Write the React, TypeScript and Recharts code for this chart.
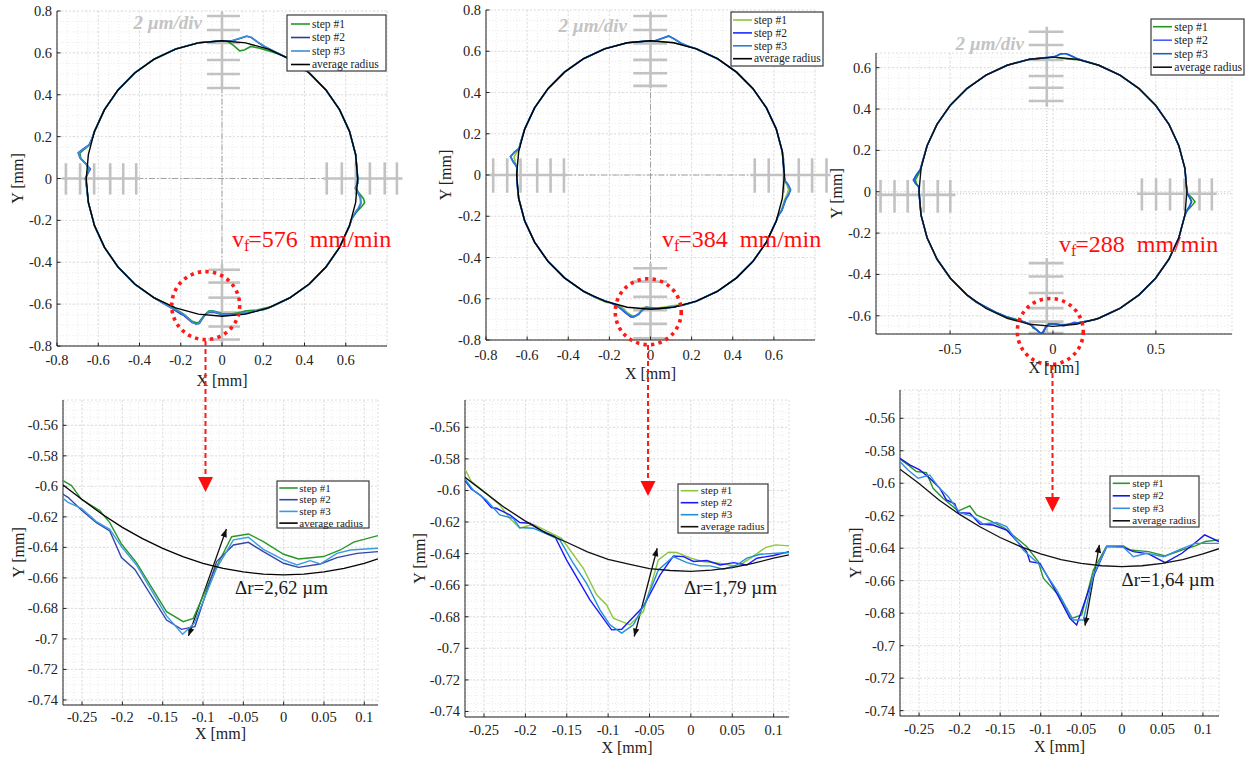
import React from 'react';
import { ScatterChart, Scatter, XAxis, YAxis, CartesianGrid, ReferenceLine, ReferenceDot } from 'recharts';

type Pt = [number, number];

const SERIF = "'Liberation Serif', 'Times New Roman', 'DejaVu Serif', serif";
const AXIS_COLOR = '#222222';

// ---------------- top plots: radius deviations [angle deg, dev mm] ----------------
const BASE_ANGLES = [0, 10, 20, 30, 40, 50, 60, 70, 80, 90, 100, 110, 120, 130, 140, 150, 160, 170, 180, 190, 200, 210, 220, 230, 240, 250, 260, 270, 280, 290, 300, 310, 320, 330, 340, 350, 360];

const P1_AVG_RADIUS = 0.658;
const P1_S1_TOP: Pt[] = [[62, 0], [66, -0.005], [70, -0.008], [74, -0.01], [77.5, -0.012], [80, -0.035], [82, -0.042], [85, -0.02], [88, 0]];
const P1_S1_LEFT: Pt[] = [[163, 0], [166, 0.005], [168, 0.022], [170, 0.042], [172, 0.033], [174, 0.005], [176, -0.012], [178, -0.004], [180, 0.003], [183, 0]];
const P1_S1_BOTTOM: Pt[] = [[240, 0], [247.5, 0], [252.5, 0.011], [254.3, 0.017], [258, 0.039], [259.8, 0.042], [260.7, 0.038], [262.4, 0.004], [264.2, -0.022], [266, -0.025], [270, -0.013], [274.4, -0.01], [277, -0.012], [280.5, -0.015], [285, -0.008], [292, 0]];
const P1_S1_RIGHT: Pt[] = [[343, 0], [346, 0.012], [348.5, 0.03], [350.5, 0.043], [352, 0.035], [354, 0.01], [356, -0.008], [358, 0]];
const P1_S2_TOP: Pt[] = [[68, 0], [72, 0.005], [75, 0.015], [78, 0.03], [80, 0.032], [83, 0.015], [86, 0]];
const P1_S2_LEFT: Pt[] = [[163, 0], [166, 0.006], [168, 0.028], [170, 0.05], [172, 0.036], [174, 0.004], [176, -0.018], [178, -0.006], [180, 0.004], [183, 0]];
const P1_S2_BOTTOM: Pt[] = [[240, 0], [247.8, 0.007], [252.7, 0.019], [254.3, 0.022], [258.1, 0.045], [259.7, 0.047], [261, 0.043], [262.7, -0.003], [264.4, -0.017], [266.1, -0.02], [270, -0.008], [274, -0.005], [280.3, -0.005], [288, 0]];
const P1_S2_RIGHT: Pt[] = [[343, 0], [346, 0.01], [348, 0.02], [350, 0.026], [352, 0.02], [354, 0.005], [356, -0.01], [358, 0]];
const P1_S3_TOP: Pt[] = [[68, 0], [72, 0.006], [75, 0.016], [78, 0.03], [80, 0.033], [83, 0.016], [86, 0]];
const P1_S3_LEFT: Pt[] = [[163, 0], [166, 0.005], [168, 0.026], [170, 0.048], [172, 0.035], [174, 0.006], [176, -0.015], [178, -0.005], [180, 0.004], [183, 0]];
const P1_S3_BOTTOM: Pt[] = [[240, 0], [247.8, 0.006], [252.5, 0.012], [254.4, 0.019], [258, 0.042], [259.8, 0.05], [260.9, 0.041], [262.8, 0.001], [264.4, -0.02], [266, -0.023], [270, -0.01], [274, -0.005], [280.4, -0.007], [288, 0]];
const P1_S3_RIGHT: Pt[] = [[343, 0], [346, 0.008], [348, 0.018], [350, 0.024], [352, 0.02], [354, 0.006], [356, -0.008], [358, 0]];

const P2_AVG_RADIUS = 0.651;
const P2_S1_LEFT: Pt[] = [[166, 0], [169, 0.002], [171, 0.012], [172.5, 0.018], [174.5, 0.01], [177, 0]];
const P2_S1_BOTTOM: Pt[] = [[245, 0], [250.5, 0.004], [253, -0.001], [256.1, -0.002], [258.7, 0.011], [260.3, 0.025], [262.2, 0.036], [263.9, 0.038], [265.2, 0.028], [266.5, -0.006], [268.5, -0.011], [273, -0.004], [279.2, -0.008], [286, 0]];
const P2_S1_RIGHT: Pt[] = [[342, 0], [345, 0.008], [349.6, 0.012], [352, 0.02], [354, 0.024], [356, 0.014], [357.2, 0.004], [359, 0]];
const P2_S2_TOP: Pt[] = [[74, 0], [77, 0.005], [80, 0.018], [82.5, 0.029], [85, 0.015], [88, 0]];
const P2_S2_LEFT: Pt[] = [[166, 0], [168.6, 0.001], [170.5, 0.02], [172.5, 0.036], [174.5, 0.02], [176.5, 0], [179, -0.003], [182, 0]];
const P2_S2_BOTTOM: Pt[] = [[245, 0], [250, -0.002], [253, -0.002], [256.9, 0.01], [259.7, 0.029], [262.1, 0.044], [263.1, 0.042], [265.1, 0.025], [266.7, 0.004], [268.1, -0.009], [270.3, -0.006], [274.6, -0.003], [279, -0.002], [284, 0]];
const P2_S2_RIGHT: Pt[] = [[342, 0], [345.1, 0.011], [349.6, 0.017], [352, 0.028], [354, 0.034], [356, 0.02], [357.2, 0.007], [359, 0]];
const P2_S3_TOP: Pt[] = [[74, 0], [77, 0.006], [80, 0.019], [82.5, 0.028], [85, 0.014], [88, 0]];
const P2_S3_LEFT: Pt[] = [[166, 0], [168.6, 0], [170.5, 0.019], [172.5, 0.035], [174.5, 0.019], [176.5, 0.001], [179, -0.002], [182, 0]];
const P2_S3_BOTTOM: Pt[] = [[245, 0], [250, -0.001], [254, -0.002], [257.6, 0.011], [260.8, 0.033], [263.1, 0.044], [265.3, 0.023], [266.7, 0.003], [268.1, -0.009], [271, -0.004], [273.5, 0], [279, -0.002], [284, 0]];
const P2_S3_RIGHT: Pt[] = [[342, 0], [345.1, 0.01], [349.6, 0.016], [352, 0.027], [354, 0.033], [356, 0.02], [357.2, 0.006], [359, 0]];

const P3_AVG_RADIUS = 0.651;
const P3_S1_TOP: Pt[] = [[78, 0], [81, -0.004], [84, -0.005], [87, -0.002], [89, 0]];
const P3_S1_LEFT: Pt[] = [[168, 0], [171, 0.002], [173, 0.01], [175.2, 0.02], [176.5, 0.014], [178, 0.002], [180, 0]];
const P3_S1_BOTTOM: Pt[] = [[235, 0], [245, -0.005], [249.5, -0.006], [253, -0.009], [255.4, -0.007], [259.6, -0.001], [261, 0.005], [261.6, 0.015], [263.5, 0.023], [264.8, 0.035], [265.8, 0.032], [266.9, 0.003], [268.3, -0.012], [272.9, -0.008], [276.6, -0.006], [280.7, -0.005], [288, 0]];
const P3_S1_RIGHT: Pt[] = [[350, 0], [352, 0.008], [354, 0.025], [356, 0.041], [357.5, 0.025], [359, 0.005]];
const P3_S2_TOP: Pt[] = [[77, 0], [80, 0.005], [83, 0.015], [85, 0.021], [87, 0.015], [89, 0.003], [91, 0]];
const P3_S2_LEFT: Pt[] = [[168, 0], [170.5, 0.003], [173, 0.018], [175.2, 0.03], [176.5, 0.018], [177.8, 0.002], [180, 0]];
const P3_S2_BOTTOM: Pt[] = [[235, 0], [245, -0.005], [249.5, -0.006], [253.1, -0.005], [257.3, -0.006], [259.5, -0.003], [261.2, 0.006], [262.7, 0.018], [264.6, 0.035], [265.4, 0.039], [266.9, 0.007], [268.3, -0.012], [271, -0.012], [274.7, 0], [279.2, -0.011], [281, -0.005], [288, 0]];
const P3_S2_RIGHT: Pt[] = [[350, 0], [352, 0.006], [354, 0.018], [356, 0.025], [357.5, 0.015], [359, 0.003]];
const P3_S3_TOP: Pt[] = [[77, 0], [80, 0.004], [83, 0.014], [85, 0.02], [87, 0.016], [89, 0.004], [91, 0]];
const P3_S3_LEFT: Pt[] = [[168, 0], [170.5, 0.002], [173, 0.017], [175.2, 0.028], [176.5, 0.019], [177.8, 0.003], [180, 0]];
const P3_S3_BOTTOM: Pt[] = [[235, 0], [245, -0.005], [249.5, -0.005], [253, -0.006], [256.1, -0.008], [259.5, -0.002], [261.2, 0.007], [263.1, 0.02], [265, 0.036], [266, 0.035], [266.9, 0.006], [268.3, -0.012], [271, -0.011], [274.6, -0.004], [279, -0.006], [288, 0]];
const P3_S3_RIGHT: Pt[] = [[350, 0], [352, 0.005], [354, 0.016], [356, 0.023], [357.5, 0.014], [359, 0.003]];

// ---------------- bottom plots: [x mm, y mm] ----------------
const P4_STEP1: Pt[] = [[-0.2736, -0.5963], [-0.263, -0.5995], [-0.2508, -0.6085], [-0.228, -0.6159], [-0.2156, -0.6238], [-0.2011, -0.6378], [-0.1825, -0.65], [-0.1452, -0.6821], [-0.1245, -0.6887], [-0.1121, -0.6865], [-0.0872, -0.6566], [-0.0644, -0.633], [-0.0437, -0.6312], [-0.0251, -0.6362], [0, -0.6445], [0.0184, -0.6476], [0.0495, -0.646], [0.0702, -0.6417], [0.0868, -0.6365], [0.117, -0.6323]];
const P4_STEP2: Pt[] = [[-0.2736, -0.6052], [-0.2674, -0.6072], [-0.2508, -0.6155], [-0.2322, -0.6238], [-0.2156, -0.6292], [-0.2011, -0.6467], [-0.1845, -0.6544], [-0.1452, -0.6876], [-0.1266, -0.6937], [-0.11, -0.6919], [-0.0831, -0.6493], [-0.0623, -0.6384], [-0.0437, -0.6367], [-0.0251, -0.6428], [0, -0.6504], [0.0184, -0.6531], [0.0454, -0.6509], [0.0661, -0.6467], [0.0909, -0.6439], [0.117, -0.6428]];
const P4_STEP3: Pt[] = [[-0.2736, -0.6078], [-0.2674, -0.6105], [-0.2508, -0.6144], [-0.2322, -0.6231], [-0.2156, -0.6282], [-0.2011, -0.6395], [-0.1825, -0.6515], [-0.1452, -0.6849], [-0.1253, -0.6969], [-0.1108, -0.6897], [-0.0831, -0.6537], [-0.0623, -0.6351], [-0.0437, -0.6334], [-0.0251, -0.6413], [0, -0.6482], [0.0166, -0.6515], [0.0329, -0.6487], [0.0454, -0.6509], [0.0661, -0.6439], [0.0827, -0.6417], [0.117, -0.6406]];
const P4_AVG: Pt[] = [[-0.2736, -0.5991], [-0.25, -0.6086], [-0.225, -0.6183], [-0.2, -0.6269], [-0.175, -0.6343], [-0.15, -0.6407], [-0.125, -0.646], [-0.1, -0.6504], [-0.075, -0.6537], [-0.05, -0.6561], [-0.025, -0.6575], [0, -0.658], [0.025, -0.6575], [0.05, -0.6561], [0.075, -0.6537], [0.1, -0.6504], [0.117, -0.6475]];

const P5_STEP1: Pt[] = [[-0.273, -0.5866], [-0.2653, -0.5944], [-0.25, -0.6007], [-0.231, -0.6092], [-0.2189, -0.6176], [-0.2068, -0.6239], [-0.1907, -0.6214], [-0.1563, -0.6303], [-0.13, -0.6493], [-0.1139, -0.6661], [-0.1018, -0.6725], [-0.0938, -0.6809], [-0.0736, -0.6851], [-0.0574, -0.6767], [-0.0393, -0.644], [-0.0271, -0.6391], [-0.017, -0.6393], [0, -0.6429], [0.0141, -0.645], [0.0343, -0.6461], [0.0565, -0.6482], [0.0747, -0.6419], [0.0908, -0.636], [0.1029, -0.6345], [0.1186, -0.6351]];
const P5_STEP2: Pt[] = [[-0.273, -0.5938], [-0.2653, -0.599], [-0.2532, -0.6035], [-0.2411, -0.6109], [-0.235, -0.6113], [-0.2189, -0.6155], [-0.2068, -0.6203], [-0.1947, -0.6208], [-0.1786, -0.626], [-0.1644, -0.6292], [-0.1503, -0.644], [-0.122, -0.6693], [-0.0958, -0.6883], [-0.0836, -0.6879], [-0.0574, -0.6735], [-0.0372, -0.6535], [-0.0211, -0.6415], [-0.0089, -0.6419], [0.0032, -0.645], [0.0194, -0.6444], [0.0355, -0.6472], [0.0516, -0.6457], [0.0677, -0.6472], [0.0798, -0.6429], [0.1, -0.6412], [0.1186, -0.6387]];
const P5_STEP3: Pt[] = [[-0.273, -0.5929], [-0.2633, -0.5997], [-0.2472, -0.606], [-0.231, -0.6155], [-0.2149, -0.6176], [-0.2068, -0.6235], [-0.1907, -0.6239], [-0.1745, -0.6275], [-0.1584, -0.6313], [-0.1422, -0.6461], [-0.1261, -0.6588], [-0.1099, -0.6756], [-0.0978, -0.6851], [-0.0836, -0.6904], [-0.0695, -0.6851], [-0.0554, -0.6714], [-0.0393, -0.6503], [-0.0211, -0.6419], [-0.0049, -0.6457], [0.0113, -0.6478], [0.0234, -0.6478], [0.0395, -0.6499], [0.0556, -0.6472], [0.0677, -0.6429], [0.0839, -0.6404], [0.1186, -0.6393]];
const P5_AVG: Pt[] = [[-0.273, -0.5917], [-0.25, -0.6009], [-0.225, -0.6109], [-0.2, -0.6194], [-0.175, -0.627], [-0.15, -0.6328], [-0.125, -0.6389], [-0.1, -0.6436], [-0.075, -0.6467], [-0.05, -0.6495], [-0.025, -0.6507], [0, -0.6512], [0.025, -0.6505], [0.05, -0.6489], [0.075, -0.6462], [0.1, -0.6429], [0.1186, -0.6408]];

const P6_STEP1: Pt[] = [[-0.2735, -0.5852], [-0.2636, -0.5887], [-0.2533, -0.5928], [-0.2409, -0.5935], [-0.2327, -0.6031], [-0.2204, -0.6093], [-0.2018, -0.6171], [-0.1874, -0.614], [-0.1792, -0.6195], [-0.1627, -0.623], [-0.1442, -0.6277], [-0.1174, -0.639], [-0.103, -0.6483], [-0.0968, -0.6585], [-0.0763, -0.6698], [-0.0619, -0.6832], [-0.0495, -0.6811], [-0.0351, -0.6534], [-0.0186, -0.6386], [0.002, -0.6386], [0.0103, -0.6411], [0.0329, -0.6421], [0.0535, -0.6448], [0.0741, -0.6411], [0.0905, -0.6386], [0.1029, -0.6359], [0.1197, -0.6349]];
const P6_STEP2: Pt[] = [[-0.2735, -0.5846], [-0.2615, -0.5887], [-0.2492, -0.5918], [-0.2368, -0.5969], [-0.2245, -0.6031], [-0.2163, -0.6103], [-0.206, -0.6127], [-0.2018, -0.6181], [-0.1874, -0.6185], [-0.175, -0.6251], [-0.1586, -0.6257], [-0.1421, -0.6288], [-0.1174, -0.6421], [-0.1133, -0.6483], [-0.101, -0.6493], [-0.0845, -0.6637], [-0.064, -0.6832], [-0.0557, -0.6873], [-0.0351, -0.6575], [-0.0186, -0.639], [0, -0.639], [0.0143, -0.6421], [0.0329, -0.6435], [0.0535, -0.6489], [0.0741, -0.6431], [0.0905, -0.6366], [0.1021, -0.6318], [0.1197, -0.6359]];
const P6_STEP3: Pt[] = [[-0.2735, -0.5867], [-0.2636, -0.5918], [-0.2512, -0.5969], [-0.2368, -0.5949], [-0.2265, -0.6021], [-0.2142, -0.6082], [-0.1998, -0.6181], [-0.1833, -0.6205], [-0.1709, -0.6251], [-0.1545, -0.6242], [-0.1421, -0.6267], [-0.1216, -0.6411], [-0.101, -0.6503], [-0.0804, -0.6657], [-0.0598, -0.6842], [-0.0474, -0.6842], [-0.0351, -0.6565], [-0.0186, -0.639], [0.002, -0.6394], [0.0143, -0.6452], [0.0308, -0.6431], [0.0514, -0.6452], [0.0719, -0.6407], [0.0905, -0.637], [0.1197, -0.637]];
const P6_AVG: Pt[] = [[-0.2735, -0.5914], [-0.25, -0.6001], [-0.225, -0.6105], [-0.2, -0.6192], [-0.175, -0.6268], [-0.15, -0.6334], [-0.125, -0.639], [-0.1, -0.6435], [-0.075, -0.647], [-0.05, -0.6493], [-0.025, -0.6508], [0, -0.6513], [0.025, -0.6508], [0.05, -0.6493], [0.075, -0.647], [0.1, -0.6435], [0.1198, -0.6403]];

// Δr arrows (data coords)
const P4_DR_ARROW: Pt[] = [[-0.118, -0.698], [-0.071, -0.628]];
const P5_DR_ARROW: Pt[] = [[-0.0685, -0.6925], [-0.0407, -0.6366]];
const P6_DR_ARROW: Pt[] = [[-0.0454, -0.6877], [-0.0277, -0.6379]];

// ticks
const TOP_TICKS_X = [-0.8, -0.6, -0.4, -0.2, 0, 0.2, 0.4, 0.6];
const TOP_TICKS_Y = [-0.8, -0.6, -0.4, -0.2, 0, 0.2, 0.4, 0.6, 0.8];
const P3_TICKS_X = [-0.5, 0, 0.5];
const P3_TICKS_Y = [-0.6, -0.4, -0.2, 0, 0.2, 0.4, 0.6];
const BOT_TICKS_X = [-0.25, -0.2, -0.15, -0.1, -0.05, 0, 0.05, 0.1];
const BOT_TICKS_Y = [-0.74, -0.72, -0.7, -0.68, -0.66, -0.64, -0.62, -0.6, -0.58, -0.56];

const LEGEND_NAMES = ['step #1', 'step #2', 'step #3', 'average radius'];

// "2 µm/div" scale crosses
type Marker = { o: 'v' | 'h'; at: number; from: number; to: number; ticks: number[]; t0: number; t1: number };
const P1_MARKERS: Marker[] = [
  { o: 'v', at: 0, from: 0.795, to: 0.425, ticks: [0.776, 0.709, 0.647, 0.566, 0.499, 0.432], t0: -0.073, t1: 0.087 },
  { o: 'v', at: 0, from: -0.41, to: -0.785, ticks: [-0.436, -0.497, -0.569, -0.64, -0.707, -0.769], t0: -0.066, t1: 0.087 },
  { o: 'h', at: 0, from: -0.776, to: -0.397, ticks: [-0.757, -0.688, -0.62, -0.542, -0.479, -0.416], t0: -0.077, t1: 0.073 },
  { o: 'h', at: 0, from: 0.491, to: 0.875, ticks: [0.508, 0.581, 0.649, 0.717, 0.789, 0.848], t0: -0.077, t1: 0.077 },
];
const P2_MARKERS: Marker[] = [
  { o: 'v', at: 0, from: 0.792, to: 0.42, ticks: [0.771, 0.703, 0.638, 0.558, 0.493, 0.432], t0: -0.084, t1: 0.081 },
  { o: 'v', at: 0, from: -0.428, to: -0.8, ticks: [-0.452, -0.517, -0.59, -0.655, -0.722, -0.792], t0: -0.084, t1: 0.081 },
  { o: 'h', at: 0, from: -0.786, to: -0.405, ticks: [-0.765, -0.697, -0.632, -0.551, -0.486, -0.421], t0: -0.086, t1: 0.081 },
  { o: 'h', at: 0, from: 0.486, to: 0.875, ticks: [0.507, 0.575, 0.648, 0.721, 0.786, 0.856], t0: -0.086, t1: 0.081 },
];
const P3_MARKERS: Marker[] = [
  { o: 'v', at: -0.03, from: 0.798, to: 0.411, ticks: [0.774, 0.71, 0.637, 0.56, 0.503, 0.439], t0: -0.118, t1: 0.051 },
  { o: 'v', at: -0.03, from: -0.321, to: -0.684, ticks: [-0.345, -0.41, -0.49, -0.563, -0.628, -0.684], t0: -0.118, t1: 0.051 },
  { o: 'h', at: -0.015, from: -0.854, to: -0.474, ticks: [-0.838, -0.77, -0.706, -0.628, -0.56, -0.499], t0: -0.101, t1: 0.057 },
  { o: 'h', at: -0.01, from: 0.408, to: 0.796, ticks: [0.432, 0.501, 0.569, 0.639, 0.712, 0.772], t0: -0.091, t1: 0.065 },
];

// ---------------- helpers ----------------
function ring(R: number, bumps: Pt[][]) {
  const pts: Pt[] = [];
  BASE_ANGLES.forEach((a) => {
    if (!bumps.some((b) => a >= b[0][0] && a <= b[b.length - 1][0])) pts.push([a, 0]);
  });
  bumps.forEach((b) => b.forEach((p) => pts.push(p)));
  pts.sort((p, q) => p[0] - q[0]);
  return pts.map(([a, d]) => ({ x: (R + d) * Math.cos((a * Math.PI) / 180), y: (R + d) * Math.sin((a * Math.PI) / 180) }));
}
const xy = (arr: Pt[]) => arr.map(([x, y]) => ({ x, y }));
function range(a: number, b: number, s: number) {
  const out: number[] = [];
  const n = Math.round((b - a) / s);
  for (let i = 0; i <= n; i++) out.push(Math.round((a + i * s) * 1e6) / 1e6);
  return out;
}

type Series = { name: string; color: string; width: number; data: { x: number; y: number }[] };

const mkSeries = (colors: string[], widths: number[], datas: { x: number; y: number }[][]): Series[] =>
  LEGEND_NAMES.map((name, i) => ({ name, color: colors[i], width: widths[i], data: datas[i] }));

const P1_SERIES = mkSeries(['#239a23', '#2c3c9e', '#3a8fd6', '#000000'], [1.6, 1.6, 1.6, 1.4], [
  ring(P1_AVG_RADIUS, [P1_S1_TOP, P1_S1_LEFT, P1_S1_BOTTOM, P1_S1_RIGHT]),
  ring(P1_AVG_RADIUS, [P1_S2_TOP, P1_S2_LEFT, P1_S2_BOTTOM, P1_S2_RIGHT]),
  ring(P1_AVG_RADIUS, [P1_S3_TOP, P1_S3_LEFT, P1_S3_BOTTOM, P1_S3_RIGHT]),
  ring(P1_AVG_RADIUS, []),
]);
const P2_SERIES = mkSeries(['#8cc43c', '#1a2cff', '#2a80d2', '#000000'], [1.6, 1.6, 1.6, 1.4], [
  ring(P2_AVG_RADIUS, [P2_S1_LEFT, P2_S1_BOTTOM, P2_S1_RIGHT]),
  ring(P2_AVG_RADIUS, [P2_S2_TOP, P2_S2_LEFT, P2_S2_BOTTOM, P2_S2_RIGHT]),
  ring(P2_AVG_RADIUS, [P2_S3_TOP, P2_S3_LEFT, P2_S3_BOTTOM, P2_S3_RIGHT]),
  ring(P2_AVG_RADIUS, []),
]);
const P3_SERIES = mkSeries(['#1e9a1e', '#4a5cff', '#1462c2', '#111111'], [1.5, 1.6, 1.5, 1.4], [
  ring(P3_AVG_RADIUS, [P3_S1_TOP, P3_S1_LEFT, P3_S1_BOTTOM, P3_S1_RIGHT]),
  ring(P3_AVG_RADIUS, [P3_S2_TOP, P3_S2_LEFT, P3_S2_BOTTOM, P3_S2_RIGHT]),
  ring(P3_AVG_RADIUS, [P3_S3_TOP, P3_S3_LEFT, P3_S3_BOTTOM, P3_S3_RIGHT]),
  ring(P3_AVG_RADIUS, []),
]);
const P4_SERIES = mkSeries(['#2a962a', '#3446a8', '#3a9be0', '#000000'], [1.4, 1.4, 1.4, 1.3], [xy(P4_STEP1), xy(P4_STEP2), xy(P4_STEP3), xy(P4_AVG)]);
const P5_SERIES = mkSeries(['#8cc63f', '#1a1aff', '#1f8fd8', '#111111'], [1.4, 1.4, 1.4, 1.3], [xy(P5_STEP1), xy(P5_STEP2), xy(P5_STEP3), xy(P5_AVG)]);
const P6_SERIES = mkSeries(['#2a962a', '#1414e6', '#3a8ee0', '#111111'], [1.4, 1.4, 1.4, 1.3], [xy(P6_STEP1), xy(P6_STEP2), xy(P6_STEP3), xy(P6_AVG)]);

// ---------------- ticks ----------------
const textStyle = (size: number, extra: any = {}) => ({ fontFamily: SERIF, fontSize: size, ...extra });

const makeXTick = (dy: number) => (props: any) => {
  const { x, y, payload } = props;
  return (
    <g>
      <line x1={x} y1={y} x2={x} y2={y - 3.5} stroke={AXIS_COLOR} strokeWidth={1} />
      <text x={x} y={y + dy} textAnchor="middle" style={textStyle(14.5)} fill={AXIS_COLOR}>
        {String(payload.value)}
      </text>
    </g>
  );
};
const YTick = (props: any) => {
  const { x, y, payload } = props;
  return (
    <g>
      <line x1={x} y1={y} x2={x + 3.5} y2={y} stroke={AXIS_COLOR} strokeWidth={1} />
      <text x={x - 5} y={y + 5} textAnchor="end" style={textStyle(14.5)} fill={AXIS_COLOR}>
        {String(payload.value)}
      </text>
    </g>
  );
};

const NoShape = () => <g />;

const DoubleArrow = (props: any) => {
  const { x1, y1, x2, y2 } = props;
  const a = Math.atan2(y2 - y1, x2 - x1);
  const L = 8;
  const W = 3.2;
  const head = (hx: number, hy: number, ang: number) => {
    const bx = hx - L * Math.cos(ang);
    const by = hy - L * Math.sin(ang);
    const px = -Math.sin(ang) * W;
    const py = Math.cos(ang) * W;
    return `${hx},${hy} ${bx + px},${by + py} ${bx - px},${by - py}`;
  };
  return (
    <g>
      <line x1={x1} y1={y1} x2={x2} y2={y2} stroke="#111" strokeWidth={1.3} />
      <polygon points={head(x2, y2, a)} fill="#111" />
      <polygon points={head(x1, y1, a + Math.PI)} fill="#111" />
    </g>
  );
};

function markerLines(markers: Marker[]) {
  const out: any[] = [];
  markers.forEach((m, i) => {
    const main = m.o === 'v' ? [{ x: m.at, y: m.from }, { x: m.at, y: m.to }] : [{ x: m.from, y: m.at }, { x: m.to, y: m.at }];
    out.push(<ReferenceLine key={`m${i}`} segment={main as any} stroke="#c2c2c2" strokeWidth={2.6} ifOverflow="visible" />);
    m.ticks.forEach((t, j) => {
      const seg = m.o === 'v' ? [{ x: m.t0, y: t }, { x: m.t1, y: t }] : [{ x: t, y: m.t0 }, { x: t, y: m.t1 }];
      out.push(<ReferenceLine key={`m${i}t${j}`} segment={seg as any} stroke="#c2c2c2" strokeWidth={2.6} ifOverflow="visible" />);
    });
  });
  return out;
}

type PanelCfg = {
  L: number; T: number; W: number; H: number;
  plot: [number, number, number, number];
  xDomain: [number, number]; yDomain: [number, number];
  xTicks: number[]; yTicks: number[];
  xMinor: number[]; yMinor: number[];
  xLabelY: number; yLabelX: number; tickDy: number;
  series: Series[];
  markers?: Marker[];
  center?: { x: number; y: number; dash: string; color: string };
  ring?: { x: number; y: number; r: number };
  arrow?: Pt[];
};

function Panel({ cfg }: { cfg: PanelCfg }) {
  const [x0, y0, x1, y1] = cfg.plot;
  const yAxisW = x0 - cfg.L;
  const xAxisH = cfg.T + cfg.H - y1;
  const margin = { top: y0 - cfg.T, right: cfg.L + cfg.W - x1, left: 0, bottom: 0 };
  const labelStyle = { fontFamily: SERIF, fontSize: 16, fill: AXIS_COLOR };
  return (
    <div style={{ position: 'absolute', left: cfg.L, top: cfg.T, width: cfg.W, height: cfg.H, fontFamily: SERIF }}>
      <ScatterChart width={cfg.W} height={cfg.H} margin={margin} style={{ fontFamily: SERIF }}>
        <XAxis
          type="number"
          dataKey="x"
          domain={cfg.xDomain}
          allowDataOverflow
          ticks={cfg.xTicks}
          interval={0}
          tickSize={0}
          tickMargin={0}
          tickLine={false}
          tick={makeXTick(cfg.tickDy)}
          height={xAxisH}
          axisLine={{ stroke: AXIS_COLOR, strokeWidth: 1 }}
          label={{ value: 'X [mm]', position: 'insideBottom', offset: cfg.T + cfg.H - (cfg.xLabelY + 5.6), style: labelStyle }}
        />
        <YAxis
          type="number"
          dataKey="y"
          domain={cfg.yDomain}
          allowDataOverflow
          ticks={cfg.yTicks}
          interval={0}
          tickSize={0}
          tickMargin={0}
          tickLine={false}
          tick={YTick}
          width={yAxisW}
          axisLine={{ stroke: AXIS_COLOR, strokeWidth: 1 }}
          label={{ value: 'Y [mm]', angle: -90, position: 'insideLeft', offset: cfg.yLabelX - cfg.L, style: { ...labelStyle, textAnchor: 'middle' } }}
        />
        {cfg.xMinor.map((v) => (
          <ReferenceLine key={`gx${v}`} x={v} stroke="#e6e6e6" strokeWidth={0.8} strokeDasharray="1 2" />
        ))}
        {cfg.yMinor.map((v) => (
          <ReferenceLine key={`gy${v}`} y={v} stroke="#e6e6e6" strokeWidth={0.8} strokeDasharray="1 2" />
        ))}
        <CartesianGrid stroke="#d4d4d4" strokeWidth={0.8} strokeDasharray="2 2" />
        {cfg.center ? <ReferenceLine x={cfg.center.x} stroke={cfg.center.color} strokeWidth={0.9} strokeDasharray={cfg.center.dash} /> : null}
        {cfg.center ? <ReferenceLine y={cfg.center.y} stroke={cfg.center.color} strokeWidth={0.9} strokeDasharray={cfg.center.dash} /> : null}
        {cfg.markers ? markerLines(cfg.markers) : null}
        {cfg.series.map((s) => (
          <Scatter
            key={s.name}
            name={s.name}
            data={s.data}
            fill={s.color}
            line={{ stroke: s.color, strokeWidth: s.width }}
            lineJointType="linear"
            shape={NoShape}
            isAnimationActive={false}
          />
        ))}
        {cfg.ring ? (
          <ReferenceDot x={cfg.ring.x} y={cfg.ring.y} r={cfg.ring.r} fill="none" stroke="#ff1a1a" strokeWidth={3.6} strokeDasharray="3.4 4.2" ifOverflow="visible" />
        ) : null}
        {cfg.arrow ? (
          <ReferenceLine
            segment={[{ x: cfg.arrow[0][0], y: cfg.arrow[0][1] }, { x: cfg.arrow[1][0], y: cfg.arrow[1][1] }] as any}
            ifOverflow="visible"
            shape={DoubleArrow}
          />
        ) : null}
      </ScatterChart>
    </div>
  );
}

const TOP_MINOR = range(-0.8, 0.8, 0.05);
const P3_MINOR_X = range(-0.85, 0.85, 0.05);
const P3_MINOR_Y = range(-0.65, 0.65, 0.05);
const BOT_MINOR_X = range(-0.27, 0.11, 0.01);
const BOT_MINOR_Y = range(-0.74, -0.545, 0.005);

const PANELS: PanelCfg[] = [
  {
    L: 0, T: 0, W: 415, H: 392, plot: [57, 11, 387, 346], xDomain: [-0.8, 0.8], yDomain: [-0.8, 0.8],
    xTicks: TOP_TICKS_X, yTicks: TOP_TICKS_Y, xMinor: TOP_MINOR, yMinor: TOP_MINOR, xLabelY: 380, yLabelX: 17, tickDy: 19,
    series: P1_SERIES, markers: P1_MARKERS, center: { x: 0, y: 0, dash: '6 2 1.5 2', color: '#9a9a9a' }, ring: { x: -0.079, y: -0.607, r: 34 },
  },
  {
    L: 425, T: 0, W: 415, H: 385, plot: [486, 10, 815, 340], xDomain: [-0.8, 0.8], yDomain: [-0.8, 0.8],
    xTicks: TOP_TICKS_X, yTicks: TOP_TICKS_Y, xMinor: TOP_MINOR, yMinor: TOP_MINOR, xLabelY: 373, yLabelX: 445, tickDy: 19.5,
    series: P2_SERIES, markers: P2_MARKERS, center: { x: 0, y: 0, dash: '6 2 1.5 2', color: '#9a9a9a' }, ring: { x: -0.011, y: -0.663, r: 33 },
  },
  {
    L: 826, T: 0, W: 423, H: 380, plot: [876, 53, 1232, 334], xDomain: [-0.86, 0.87], yDomain: [-0.688, 0.671],
    xTicks: P3_TICKS_X, yTicks: P3_TICKS_Y, xMinor: P3_MINOR_X, yMinor: P3_MINOR_Y, xLabelY: 367.7, yLabelX: 836, tickDy: 19.5,
    series: P3_SERIES, markers: P3_MARKERS, center: { x: -0.03, y: -0.01, dash: '1 2', color: '#b8b8b8' }, ring: { x: -0.013, y: -0.676, r: 33 },
  },
  {
    L: 0, T: 385, W: 395, H: 375, plot: [63, 400, 378, 705], xDomain: [-0.2736, 0.117], yDomain: [-0.7433, -0.5434],
    xTicks: BOT_TICKS_X, yTicks: BOT_TICKS_Y, xMinor: BOT_MINOR_X, yMinor: BOT_MINOR_Y, xLabelY: 733, yLabelX: 18, tickDy: 17,
    series: P4_SERIES, arrow: P4_DR_ARROW,
  },
  {
    L: 405, T: 385, W: 400, H: 375, plot: [465, 400, 789, 717], xDomain: [-0.273, 0.1186], yDomain: [-0.7435, -0.5427],
    xTicks: BOT_TICKS_X, yTicks: BOT_TICKS_Y, xMinor: BOT_MINOR_X, yMinor: BOT_MINOR_Y, xLabelY: 747, yLabelX: 419, tickDy: 18,
    series: P5_SERIES, arrow: P5_DR_ARROW,
  },
  {
    L: 840, T: 380, W: 409, H: 380, plot: [900, 390, 1219, 716], xDomain: [-0.2735, 0.1198], yDomain: [-0.7433, -0.5426],
    xTicks: BOT_TICKS_X, yTicks: BOT_TICKS_Y, xMinor: BOT_MINOR_X, yMinor: BOT_MINOR_Y, xLabelY: 746.7, yLabelX: 855.5, tickDy: 18,
    series: P6_SERIES, arrow: P6_DR_ARROW,
  },
];

type LegendCfg = { x: number; y: number; w: number; h: number; r0: number; gap: number; s0: number; s1: number; tx: number; fs: number };
const LEGENDS: LegendCfg[] = [
  { x: 287, y: 15, w: 99, h: 56, r0: 9, gap: 13.5, s0: 4, s1: 23, tx: 25, fs: 11.5 },
  { x: 731, y: 12, w: 92, h: 54, r0: 8, gap: 12.9, s0: 2, s1: 21, tx: 23, fs: 11.5 },
  { x: 1151, y: 19, w: 93, h: 56, r0: 7.7, gap: 13.5, s0: 2, s1: 21, tx: 23.3, fs: 11.7 },
  { x: 277, y: 481, w: 92, h: 47, r0: 7, gap: 11.7, s0: 2.3, s1: 20.7, tx: 22.3, fs: 11 },
  { x: 678, y: 484, w: 90, h: 49, r0: 6.7, gap: 12, s0: 2.7, s1: 20.3, tx: 22.7, fs: 11 },
  { x: 1110, y: 476, w: 89, h: 51, r0: 7.3, gap: 12.5, s0: 2.7, s1: 20, tx: 22.3, fs: 11 },
];

function LegendBox({ cfg, series }: { cfg: LegendCfg; series: Series[] }) {
  return (
    <g>
      <rect x={cfg.x} y={cfg.y} width={cfg.w} height={cfg.h} fill="#ffffff" stroke="#3a3a3a" strokeWidth={1.2} />
      {series.map((s, i) => {
        const cy = cfg.y + cfg.r0 + i * cfg.gap;
        return (
          <g key={s.name}>
            <line x1={cfg.x + cfg.s0} x2={cfg.x + cfg.s1} y1={cy} y2={cy} stroke={s.color} strokeWidth={1.6} />
            <text x={cfg.x + cfg.tx} y={cy + cfg.fs * 0.33} style={textStyle(cfg.fs)} fill="#222222">
              {s.name}
            </text>
          </g>
        );
      })}
    </g>
  );
}

const SCALE_TEXTS = [
  { x: 202, y: 29 },
  { x: 627, y: 32 },
  { x: 1024, y: 49.5 },
];
const FEED_TEXTS = [
  { x: 232, y: 247, v: '576' },
  { x: 662, y: 247, v: '384' },
  { x: 1059, y: 252, v: '288' },
];
const DR_TEXTS = [
  { x: 235, y: 594, v: 'Δr=2,62 µm' },
  { x: 684, y: 594, v: 'Δr=1,79 µm' },
  { x: 1121.5, y: 586, v: 'Δr=1,64 µm' },
];
const ZOOM_ARROWS = [
  { x: 205.5, y0: 341, y1: 477 },
  { x: 648, y0: 345, y1: 481 },
  { x: 1052.5, y0: 365, y1: 497 },
];

export default function App() {
  const allSeries = [P1_SERIES, P2_SERIES, P3_SERIES, P4_SERIES, P5_SERIES, P6_SERIES];
  return (
    <div style={{ position: 'absolute', left: 0, top: 0, width: 1249, height: 760, background: '#ffffff', overflow: 'hidden', fontFamily: SERIF }}>
      {PANELS.map((p, i) => (
        <Panel key={i} cfg={p} />
      ))}
      <svg width={1249} height={760} style={{ position: 'absolute', left: 0, top: 0, pointerEvents: 'none', fontFamily: SERIF }}>
        {LEGENDS.map((l, i) => (
          <LegendBox key={i} cfg={l} series={allSeries[i]} />
        ))}
        {SCALE_TEXTS.map((t, i) => (
          <text key={i} x={t.x} y={t.y} textAnchor="end" style={textStyle(19, { fontStyle: 'italic', fontWeight: 'bold' })} fill="#c4c4c4">
            2 µm/div
          </text>
        ))}
        {FEED_TEXTS.map((t, i) => (
          <text key={i} x={t.x} y={t.y} style={textStyle(24)} fill="#ff0d0d">
            <tspan>v</tspan>
            <tspan style={{ fontSize: 16 }} dy={4}>f</tspan>
            <tspan dy={-4} dx={-1}>{`=${t.v}\u00A0\u00A0mm/min`}</tspan>
          </text>
        ))}
        {DR_TEXTS.map((t, i) => (
          <text key={i} x={t.x} y={t.y} style={textStyle(19)} fill="#1a1a1a">
            {t.v}
          </text>
        ))}
        {ZOOM_ARROWS.map((a, i) => (
          <g key={i}>
            <line x1={a.x} y1={a.y0} x2={a.x} y2={a.y1} stroke="#ff1a1a" strokeWidth={2} strokeDasharray="5 3" />
            <polygon points={`${a.x - 7.5},${a.y1} ${a.x + 7.5},${a.y1} ${a.x},${a.y1 + 15}`} fill="#ff0d0d" />
          </g>
        ))}
      </svg>
    </div>
  );
}
